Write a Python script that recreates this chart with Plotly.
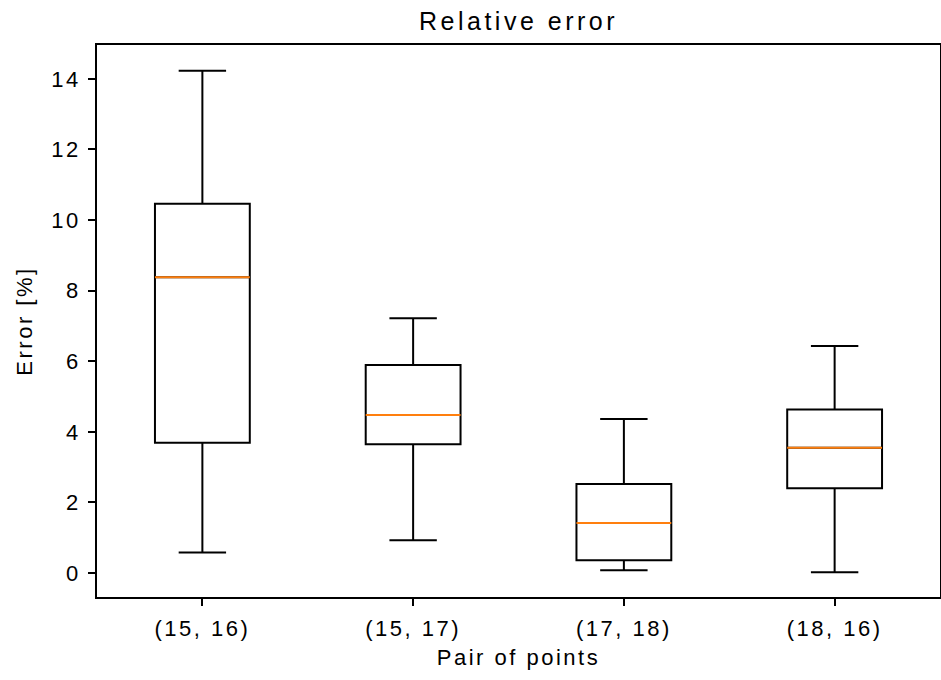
import plotly.graph_objects as go

categories = ["(15, 16)", "(15, 17)", "(17, 18)", "(18, 16)"]
lower_whisker = [0.58, 0.93, 0.08, 0.02]
q1_values = [3.69, 3.65, 0.36, 2.40]
median_values = [8.38, 4.48, 1.42, 3.55]
q3_values = [10.46, 5.89, 2.52, 4.63]
upper_whisker = [14.23, 7.22, 4.36, 6.43]
y_ticks = [0, 2, 4, 6, 8, 10, 12, 14]

positions = list(range(1, len(categories) + 1))
box_width = 0.45
font_family = "Liberation Sans, Arial, sans-serif"

fig = go.Figure()
fig.add_trace(go.Box(
    x=positions,
    q1=q1_values,
    median=median_values,
    q3=q3_values,
    lowerfence=lower_whisker,
    upperfence=upper_whisker,
    width=box_width,
    whiskerwidth=0.5,
    line=dict(color="black", width=2),
    fillcolor="rgba(255,255,255,0)",
    boxpoints=False,
    showlegend=False,
    hoverinfo="skip",
))

mx, my = [], []
for p, m in zip(positions, median_values):
    mx += [p - box_width / 2, p + box_width / 2, None]
    my += [m, m, None]
fig.add_trace(go.Scatter(
    x=mx, y=my, mode="lines",
    line=dict(color="#ff7f0e", width=2),
    showlegend=False, hoverinfo="skip",
))

fig.update_layout(
    width=941, height=680, autosize=False,
    margin=dict(l=97, r=1, t=45, b=83),
    paper_bgcolor="white", plot_bgcolor="white",
    font=dict(family=font_family, size=22, color="black"),
    title=dict(text="Relative error", x=0.5, xref="paper", xanchor="center",
               y=1, yref="paper", yanchor="bottom", pad=dict(b=15),
               font=dict(size=25, family=font_family, color="black")),
    xaxis=dict(
        range=[0.5, 4.5], tickmode="array", tickvals=positions, ticktext=categories,
        showgrid=False, zeroline=False, showline=True, linecolor="black", linewidth=1.5,
        mirror=True, ticks="outside", ticklen=7, tickwidth=1.5, tickcolor="black",
        ticklabelstandoff=4, automargin=False,
        title=dict(text="Pair of points", standoff=9, font=dict(size=22)),
        tickfont=dict(size=22),
    ),
    yaxis=dict(
        range=[-0.68, 14.96], tickmode="array", tickvals=y_ticks,
        showgrid=False, zeroline=False, showline=True, linecolor="black", linewidth=1.5,
        mirror=True, ticks="outside", ticklen=7, tickwidth=1.5, tickcolor="black",
        ticklabelstandoff=3, automargin=False,
        title=dict(text="Error [%]", standoff=18, font=dict(size=22)),
        tickfont=dict(size=22),
    ),
)

post_js = (
    "document.body.style.margin='0';document.body.style.overflow='hidden';"
    "var s=document.createElement('style');"
    "s.textContent='.xtick text,.ytick text,.xtitle,.ytitle{letter-spacing:2.5px}"
    ".gtitle{letter-spacing:3.5px}';"
    "document.head.appendChild(s);"
)

fig.write_html(
    "out.html",
    config={"responsive": False, "displayModeBar": False},
    post_script=post_js,
)
